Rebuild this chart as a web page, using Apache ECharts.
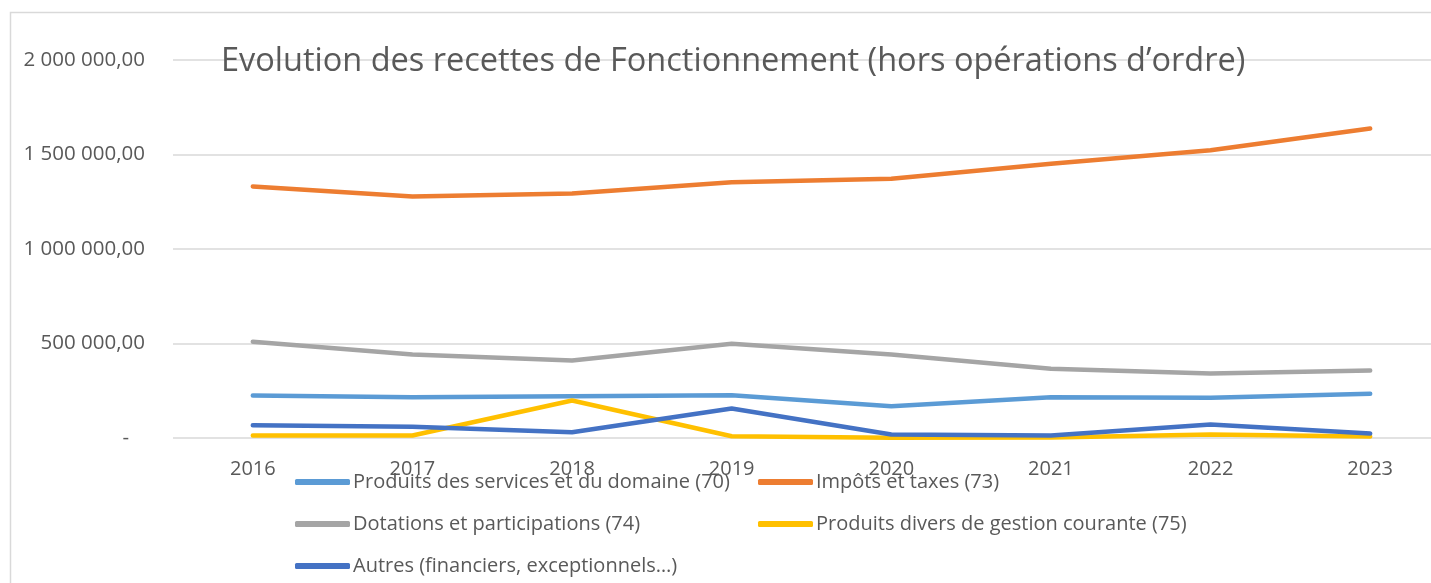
<!DOCTYPE html>
<html>
<head>
<meta charset="utf-8">
<script src="https://cdn.jsdelivr.net/npm/echarts@6/dist/echarts.min.js"></script>
<style>
  html, body { margin: 0; padding: 0; background: #fff; }
  #chart { width: 1431px; height: 583px; }
</style>
</head>
<body>
<div id="chart"></div>
<script>
// données
var years = ['2016', '2017', '2018', '2019', '2020', '2021', '2022', '2023']
var produitsServices = [224900, 216000, 221200, 226500, 168300, 216000, 212700, 233900]
var impotsTaxes = [1330700, 1277800, 1293700, 1353500, 1371500, 1450800, 1522800, 1637600]
var dotations = [509000, 441800, 410000, 498400, 441800, 366100, 341300, 357100]
var produitsDivers = [13200, 13200, 198400, 9500, 1000, 2500, 18500, 8000]
var autres = [67700, 59000, 30700, 156100, 18500, 13200, 71400, 23800]

var seriesNames = [
  'Produits des services et du domaine (70)',
  'Impôts et taxes (73)',
  'Dotations et participations (74)',
  'Produits divers de gestion courante (75)',
  'Autres (financiers, exceptionnels…)'
]
var colors = ['#5B9BD5', '#ED7D31', '#A5A5A5', '#FFC000', '#4472C4']
var allData = [produitsServices, impotsTaxes, dotations, produitsDivers, autres]

function fmt(v) {
  if (v === 0) return '-   '
  var s = String(Math.round(v)).replace(/\B(?=(\d{3})+(?!\d))/g, ' ')
  return s + ',00'
}

var font = '"Open Sans", Lato, sans-serif'
var chart = echarts.init(document.getElementById('chart'))

var option = {
  color: colors,
  textStyle: { fontFamily: font },
  title: {
    text: 'Evolution des recettes de Fonctionnement (hors opérations d’ordre)',
    left: 216,
    top: 40,
    textStyle: { fontFamily: font, fontSize: 32.5, fontWeight: 'normal', color: '#595959' }
  },
  graphic: [{
    type: 'rect',
    shape: { x: 10.5, y: 12.5, width: 1500, height: 700 },
    style: { fill: 'none', stroke: '#d9d9d9', lineWidth: 1.5 },
    z: -10
  }],
  legend: {
    left: 290,
    top: 456,
    width: 960,
    itemGap: 0,
    icon: 'roundRect',
    itemWidth: 55,
    itemHeight: 6,
    textStyle: {
      fontFamily: font, fontSize: 20, color: '#595959',
      width: 405, lineHeight: 42, padding: [0, 0, 0, -2]
    },
    data: seriesNames
  },
  grid: { left: 173, top: 60, width: 1277, height: 378, containLabel: false, outerBoundsMode: 'none' },
  xAxis: {
    type: 'category',
    data: years,
    boundaryGap: true,
    axisLine: { show: false },
    axisTick: { show: false },
    axisLabel: { fontFamily: font, fontSize: 20, color: '#595959', margin: 21 }
  },
  yAxis: {
    type: 'value',
    min: 0,
    max: 2000000,
    interval: 500000,
    axisLine: { show: false },
    axisTick: { show: false },
    splitLine: { lineStyle: { color: '#d9d9d9', width: 1.5 } },
    axisLabel: { fontFamily: font, fontSize: 20.5, color: '#595959', margin: 28, formatter: fmt }
  },
  series: seriesNames.map(function (name, i) {
    return {
      name: name,
      type: 'line',
      data: allData[i],
      showSymbol: false,
      symbol: 'none',
      lineStyle: { width: 4.5, color: colors[i], cap: 'round', join: 'round' },
      emphasis: { disabled: true }
    }
  })
}

chart.setOption(option)
window.onresize = function () {
  chart.resize()
}
</script>
</body>
</html>
